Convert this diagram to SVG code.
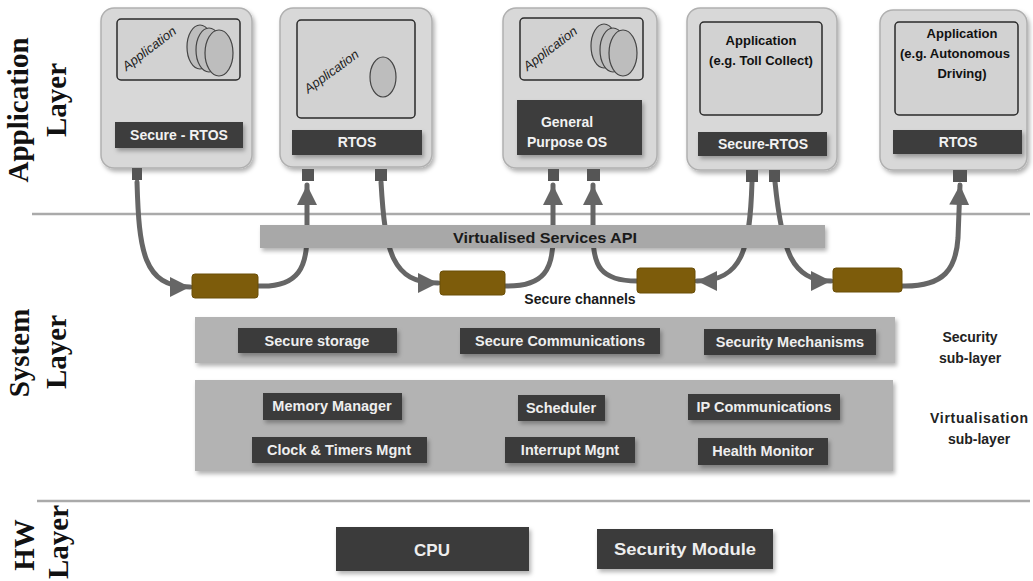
<svg xmlns="http://www.w3.org/2000/svg" width="1033" height="581" viewBox="0 0 1033 581">
<defs>
<filter id="sh" x="-10%" y="-10%" width="130%" height="140%">
<feDropShadow dx="2" dy="3" stdDeviation="2" flood-color="#000" flood-opacity="0.3"/>
</filter>
<marker id="ah" markerUnits="userSpaceOnUse" markerWidth="22" markerHeight="22" refX="20" refY="10" orient="auto">
<path d="M0,0 L20,10 L0,20 Z" fill="#666"/>
</marker>
<style>
.layer{font-family:"Liberation Serif",serif;font-weight:bold;font-size:29px;fill:#111}
.sep{stroke:#aaa;stroke-width:2.5}
.outer{fill:#d8d8d8;stroke:#b0b0b0;stroke-width:1.5;filter:url(#sh)}
.inner{fill:#d2d2d2;stroke:#2a2a2a;stroke-width:1.5}
.bar{fill:#3c3c3c;filter:url(#sh)}
.bt{font-family:"Liberation Sans",sans-serif;font-weight:bold;font-size:14px;fill:#f2f2f2;text-anchor:middle}
.at{font-family:"Liberation Sans",sans-serif;font-weight:bold;font-size:13px;fill:#111;text-anchor:middle}
.rot{font-family:"Liberation Sans",sans-serif;font-style:italic;font-size:13px;fill:#222;text-anchor:middle}
.disc{fill:#bdbdbd;stroke:#444;stroke-width:1.2}
.stub{fill:#555}
.con{fill:none;stroke:#666;stroke-width:5;stroke-linecap:round}
.chan{fill:#7d5c0b;stroke:#6a4e08;stroke-width:1}
.panel{fill:#b3b3b3;filter:url(#sh)}
.btn{fill:#3a3a3a;filter:url(#sh)}
.btt{font-family:"Liberation Sans",sans-serif;font-weight:bold;font-size:14.5px;fill:#eee;text-anchor:middle}
.side{font-family:"Liberation Sans",sans-serif;font-weight:bold;font-size:14px;fill:#222;text-anchor:middle}
</style>
</defs>
<rect width="1033" height="581" fill="#fff"/>

<g id="layer-labels">
<text class="layer" transform="translate(28,110) rotate(-90)" text-anchor="middle">Application</text>
<text class="layer" transform="translate(66,100) rotate(-90)" text-anchor="middle">Layer</text>
<text class="layer" transform="translate(29,353) rotate(-90)" text-anchor="middle">System</text>
<text class="layer" transform="translate(66,352) rotate(-90)" text-anchor="middle">Layer</text>
<text class="layer" transform="translate(34,545) rotate(-90)" text-anchor="middle" font-size="27">HW</text>
<text class="layer" transform="translate(68,542) rotate(-90)" text-anchor="middle" font-size="27">Layer</text>
</g>

<g id="separators">
<line class="sep" x1="32" y1="214" x2="1030" y2="214"/>
<line class="sep" x1="37" y1="501" x2="1030" y2="501"/>
</g>

<g id="connectors">
<path class="con" d="M137,182 C139,250 143,287 190,287" marker-end="url(#ah)"/>
<path class="con" d="M258,286 C300,288 307,265 307,235 L307,185" marker-end="url(#ah)"/>
<path class="con" d="M381,182 C385,252 392,283 438,283" marker-end="url(#ah)"/>
<path class="con" d="M505,286 C545,287 553,268 553,238 L553,185" marker-end="url(#ah)"/>
<path class="con" d="M752,182 C750,250 742,281 697,281" marker-end="url(#ah)"/>
<path class="con" d="M637,281 C600,281 593,265 593,235 L593,185" marker-end="url(#ah)"/>
<path class="con" d="M775,182 C782,252 792,281 831,281" marker-end="url(#ah)"/>
<path class="con" d="M902,286 C945,287 956,268 958,238 L960,185" marker-end="url(#ah)"/>
</g>

<g id="app1">
<rect class="outer" x="101" y="8" width="151" height="160" rx="13"/>
<rect class="inner" x="117" y="19" width="123" height="61" rx="4"/>
<text class="rot" transform="translate(152,52) rotate(-37)">Application</text>
<ellipse class="disc" cx="200" cy="47" rx="13" ry="22"/>
<ellipse class="disc" cx="209" cy="50" rx="13" ry="22"/>
<ellipse class="disc" cx="219" cy="53" rx="14" ry="23"/>
<rect class="bar" x="115" y="122" width="128" height="26"/>
<text class="bt" x="179" y="140">Secure - RTOS</text>
<rect class="stub" x="132" y="168" width="10" height="12"/>
</g>

<g id="app2">
<rect class="outer" x="280" y="8" width="152" height="159" rx="13"/>
<rect class="inner" x="297" y="20" width="118" height="98" rx="4"/>
<text class="rot" transform="translate(334,75) rotate(-36)">Application</text>
<ellipse class="disc" cx="383" cy="77" rx="13" ry="20"/>
<rect class="bar" x="292" y="130" width="130" height="25"/>
<text class="bt" x="357" y="147">RTOS</text>
<rect class="stub" x="302" y="169" width="12" height="12"/>
<rect class="stub" x="375" y="169" width="12" height="12"/>
</g>

<g id="app3">
<rect class="outer" x="503" y="8" width="154" height="160" rx="13"/>
<rect class="inner" x="520" y="18" width="123" height="62" rx="4"/>
<text class="rot" transform="translate(553,52) rotate(-37)">Application</text>
<ellipse class="disc" cx="604" cy="46" rx="13" ry="22"/>
<ellipse class="disc" cx="613" cy="50" rx="13" ry="22"/>
<ellipse class="disc" cx="623" cy="53" rx="14" ry="23"/>
<rect class="bar" x="517" y="100" width="125" height="55"/>
<text class="bt" x="567" y="127">General</text>
<text class="bt" x="567" y="147">Purpose OS</text>
<rect class="stub" x="548" y="169" width="11" height="12"/>
<rect class="stub" x="587" y="169" width="13" height="12"/>
</g>

<g id="app4">
<rect class="outer" x="687" y="8" width="150" height="162" rx="13"/>
<rect class="inner" x="700" y="22" width="122" height="93" rx="4"/>
<text class="at" x="761" y="45">Application</text>
<text class="at" x="761" y="65">(e.g. Toll Collect)</text>
<rect class="bar" x="698" y="132" width="129" height="24"/>
<text class="bt" x="763" y="149">Secure-RTOS</text>
<rect class="stub" x="746" y="170" width="12" height="12"/>
<rect class="stub" x="769" y="170" width="11" height="12"/>
</g>

<g id="app5">
<rect class="outer" x="880" y="10" width="147" height="160" rx="13"/>
<rect class="inner" x="895" y="22" width="123" height="93" rx="4"/>
<text class="at" x="962" y="38">Application</text>
<text class="at" x="955" y="58">(e.g. Autonomous</text>
<text class="at" x="962" y="78">Driving)</text>
<rect class="bar" x="893" y="130" width="129" height="24"/>
<text class="bt" x="958" y="147">RTOS</text>
<rect class="stub" x="953" y="170" width="14" height="12"/>
</g>

<g id="api">
<rect x="260" y="225" width="565" height="23" fill="#a8a8a8" filter="url(#sh)"/>
<text x="545" y="243" font-family="Liberation Sans, sans-serif" font-weight="bold" font-size="15" fill="#1a1a1a" text-anchor="middle" textLength="184" lengthAdjust="spacingAndGlyphs">Virtualised Services API</text>
</g>

<g id="channels">
<rect class="chan" x="192" y="274" width="66" height="24" rx="3"/>
<rect class="chan" x="440" y="271" width="65" height="24" rx="3"/>
<rect class="chan" x="637" y="268" width="58" height="25" rx="3"/>
<rect class="chan" x="833" y="268" width="69" height="24" rx="3"/>
<text x="580" y="304" font-family="Liberation Sans, sans-serif" font-weight="bold" font-size="14" fill="#1a1a1a" text-anchor="middle">Secure channels</text>
</g>

<g id="security-sublayer">
<rect class="panel" x="195" y="317" width="700" height="46"/>
<rect class="btn" x="238" y="328" width="159" height="25"/>
<text class="btt" x="317" y="346">Secure storage</text>
<rect class="btn" x="460" y="328" width="200" height="26"/>
<text class="btt" x="560" y="346">Secure Communications</text>
<rect class="btn" x="704" y="329" width="172" height="26"/>
<text class="btt" x="790" y="347">Security Mechanisms</text>
<text class="side" x="970" y="342">Security</text>
<text class="side" x="970" y="363">sub-layer</text>
</g>

<g id="virtualisation-sublayer">
<rect class="panel" x="195" y="380" width="698" height="91"/>
<rect class="btn" x="263" y="393" width="139" height="27"/>
<text class="btt" x="332" y="411">Memory Manager</text>
<rect class="btn" x="252" y="437" width="175" height="26"/>
<text class="btt" x="339" y="455">Clock &amp; Timers Mgnt</text>
<rect class="btn" x="518" y="395" width="87" height="26"/>
<text class="btt" x="561" y="413">Scheduler</text>
<rect class="btn" x="505" y="437" width="130" height="26"/>
<text class="btt" x="570" y="455">Interrupt Mgnt</text>
<rect class="btn" x="688" y="394" width="152" height="26"/>
<text class="btt" x="764" y="412">IP Communications</text>
<rect class="btn" x="698" y="438" width="130" height="27"/>
<text class="btt" x="763" y="456">Health Monitor</text>
<text class="side" x="979" y="423" textLength="98" lengthAdjust="spacing">Virtualisation</text>
<text class="side" x="979" y="444">sub-layer</text>
</g>

<g id="hw">
<rect class="btn" x="336" y="527" width="193" height="44"/>
<text x="432" y="556" font-family="Liberation Sans, sans-serif" font-weight="bold" font-size="17" fill="#eee" text-anchor="middle">CPU</text>
<rect class="btn" x="597" y="529" width="176" height="40"/>
<text x="685" y="555" font-family="Liberation Sans, sans-serif" font-weight="bold" font-size="17" fill="#eee" text-anchor="middle" textLength="142" lengthAdjust="spacingAndGlyphs">Security Module</text>
</g>
</svg>
